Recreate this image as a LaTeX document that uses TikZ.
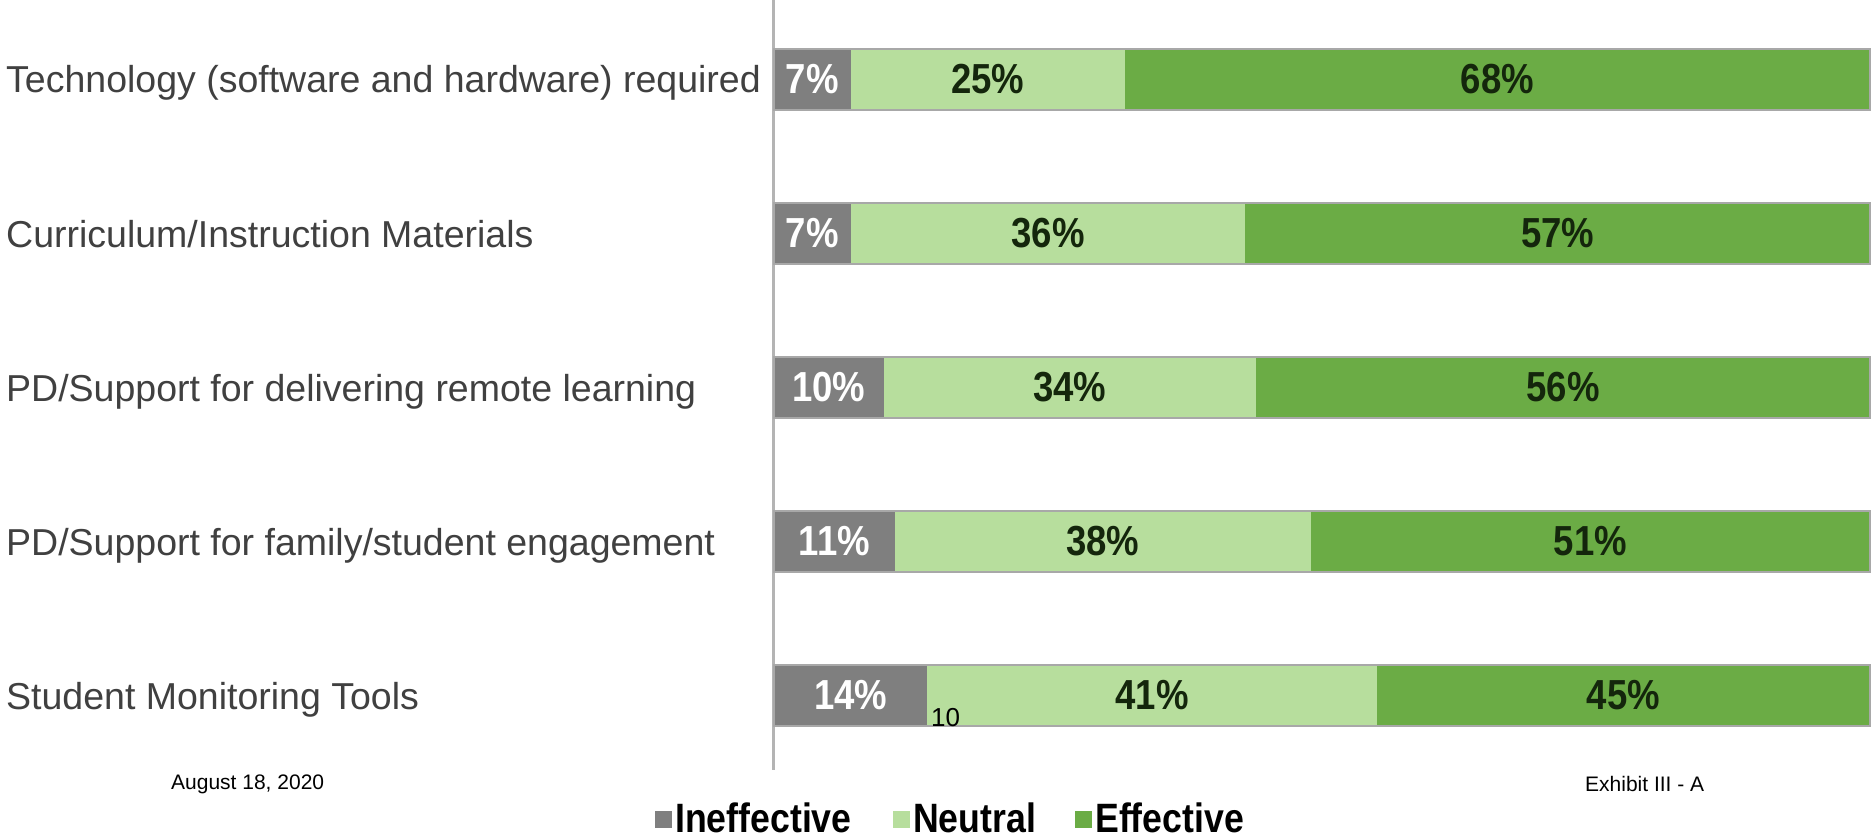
\documentclass[tikz,border=0pt]{standalone}
\usepackage{fontspec}
\setmainfont{Liberation Sans}
\newfontfamily\narrowsans{Liberation Sans}[FakeStretch=0.87]
\definecolor{cIneff}{HTML}{7F7F7F}
\definecolor{cNeut}{HTML}{B7DE9D}
\definecolor{cEff}{HTML}{6BAC45}
\definecolor{cLab}{HTML}{404040}
\definecolor{cDark}{HTML}{14260C}
\definecolor{cAxis}{HTML}{B4B4B4}
\definecolor{cBorder}{HTML}{A8A8A8}
\begin{document}
\begin{tikzpicture}[x=1pt,y=-1pt,
  seg/.style={inner sep=0pt, outer sep=0pt, minimum height=61pt, anchor=west,
    font=\narrowsans\bfseries\fontsize{42}{42}\selectfont},
  segin/.style={seg, fill=cIneff, text=white},
  segneu/.style={seg, fill=cNeut, text=cDark},
  segeff/.style={seg, fill=cEff, text=cDark},
  catlab/.style={anchor=base west, inner sep=0pt, text=cLab, font=\fontsize{37.5}{37.5}\selectfont},
  foot/.style={anchor=west, inner sep=0pt, text=black, font=\fontsize{21}{21}\selectfont},
  legbox/.style={inner sep=0pt, outer sep=0pt, minimum size=17pt},
  legtext/.style={anchor=west, inner sep=0pt, text=black, font=\narrowsans\bfseries\fontsize{41}{41}\selectfont},
  axisline/.style={draw=cAxis, line width=3pt},
  barline/.style={draw=cBorder, line width=1.5pt}
]
\useasboundingbox[fill=white] (0,0) rectangle (1871,840);
\coordinate (axtop) at (773,0);
\coordinate (axbot) at (773,770);
\draw[axisline] (axtop) -- (axbot);
\foreach \i/\lab/\a/\b/\c in {
  0/{Technology (software and hardware) required}/7/25/68,
  1/{Curriculum/Instruction Materials}/7/36/57,
  2/{PD/Support for delivering remote learning}/10/34/56,
  3/{PD/Support for family/student engagement}/11/38/51,
  4/{Student Monitoring Tools}/14/41/45}{
  \pgfmathsetmacro\yc{79.5+154*\i}
  \pgfmathsetmacro\yb{\yc+13.5}
  \pgfmathsetmacro\wa{10.96*\a}
  \pgfmathsetmacro\wb{10.96*\b}
  \pgfmathsetmacro\wc{10.96*\c}
  \node[catlab] (lab\i) at (6,\yb) {\lab};
  \node[segin, minimum width=\wa pt] (in\i) at (774,\yc) {\a\%};
  \node[segneu, minimum width=\wb pt] (ne\i) at (in\i.east) {\b\%};
  \node[segeff, minimum width=\wc pt] (ef\i) at (ne\i.east) {\c\%};
  \draw[barline] (in\i.north west) rectangle (ef\i.south east);
}
\node[anchor=west, inner sep=0pt, font=\fontsize{26}{26}\selectfont] (pagenum) at (931,718) {10};
\node[foot] (date) at (171,784) {August 18, 2020};
\node[foot] (exhibit) at (1585,784) {Exhibit III - A};
\node[legbox, fill=cIneff] (lb1) at (663,819) {};
\node[legtext] (lt1) at (675,818) {Ineffective};
\node[legbox, fill=cNeut] (lb2) at (901,819) {};
\node[legtext] (lt2) at (913,818) {Neutral};
\node[legbox, fill=cEff] (lb3) at (1083,819) {};
\node[legtext] (lt3) at (1095,818) {Effective};
\end{tikzpicture}
\end{document}
